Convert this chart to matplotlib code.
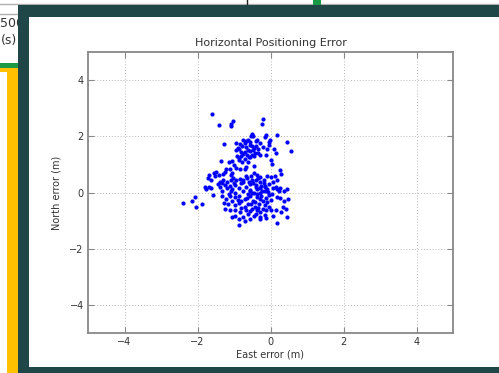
import matplotlib
matplotlib.use("Agg")
import matplotlib.pyplot as plt
from matplotlib.patches import Rectangle

# east / north error (m)
east = [
    -1.60, -1.42, -1.03, -1.08, -1.07, -0.21, -0.22,
    -0.50, -0.53, -0.47, -0.12, -0.14, 0.17, -0.61, -0.66, -0.69, -0.76, -0.37, -0.30,
    -0.41, -0.05, -0.01, 0.45, -0.83,
    -1.27, -0.77, -0.57, -0.51, -0.40, -0.66, -0.89, -0.85, -0.61, -0.57, -0.48, -0.43,
    -0.34, -0.80, -0.74, -0.94, 0.09, -0.10, 0.16, 0.55, -0.04,
    -0.91, -0.87, -0.85, -0.77, -0.65, -0.60, -0.70, -0.55, -0.46, -0.30, -0.12, -1.35,
    -1.14, -1.05, -1.00, -0.44, 0.00, 0.04, -0.95,
    -1.69, -1.70, -1.55, -1.51, -1.48, -1.41, -1.30, -1.26, -1.22, -1.12, -1.05, -0.83,
    -0.71, -0.67, -1.07, -1.03, -1.09, -0.83, -0.75, -0.65, -0.54, -0.52, -0.41, -0.35,
    -0.28, -0.19, -0.37, -0.10, 0.02, 0.12, 0.17, 0.26, 0.30, -1.63, -1.38, -1.30,
    -1.18, -0.94,
    -1.79, -1.78, -1.68, -1.63, -1.58, -1.44, -1.34, -1.38, -1.26, -1.32, -1.19, -1.10,
    -1.05, -1.07, -0.98, -0.87, -0.96, -0.80, -0.74, -0.59, -0.56, -0.48, -0.41, -0.37,
    -0.30, -0.25, -0.19, -0.14, -0.10, -0.16, -0.05, 0.06, 0.14, 0.17, 0.27, 0.23,
    0.38, 0.46, -0.66, -0.57, -0.50, -0.37, -0.30,
    -2.40, -2.14, -2.08, -2.05, -1.89, -1.32, -1.21, -1.12, -1.06, -0.98, -0.87, -0.80,
    -0.71, -0.57, -0.48, -0.37, -0.30, -0.21, -0.12, -0.03, 0.02, 0.17, 0.26, 0.38,
    0.47, -1.28, -1.16, -0.96, -0.85, -0.71, -0.61, -0.53, -0.43, -0.32, -0.16, 0.34,
    -1.26, -1.10, -0.96, -0.83, -0.68, -0.57, -0.37, -0.30, -0.12, 0.02, 0.15, 0.43,
    -1.05, -0.87, -0.74, -0.57, -0.30, -0.12, 0.06, 0.45, -0.87, 0.18, -0.98, -0.39,
    -0.16,
    -0.62, -0.45, -0.22, -0.08, -0.55, -0.40, -0.28, -0.65, -0.42, -0.25, -0.10, -0.35,
    -0.50, -0.20, -0.62, -0.45, -0.05, 0.05, -0.75, -0.90, -1.00, -0.68, -0.45, -0.15,
    0.08, -1.15, -0.80, -0.30, -0.70, 0.30,
    -0.55, -0.70, -0.45, -0.35, -0.62, -0.80, -0.20, -0.50, -0.95,
]
north = [
    2.79, 2.39, 2.55, 2.42, 2.36, 2.60, 2.43,
    2.08, 2.01, 2.00, 2.05, 1.98, 2.06, 1.88, 1.83, 1.76, 1.88, 1.88, 1.76,
    1.82, 1.81, 1.86, 1.80, 1.73,
    1.71, 1.67, 1.70, 1.65, 1.64, 1.62, 1.60, 1.55, 1.52, 1.48, 1.50, 1.42,
    1.40, 1.44, 1.38, 1.50, 1.54, 1.55, 1.40, 1.48, 1.70,
    1.29, 1.24, 1.14, 1.08, 1.32, 1.26, 1.20, 1.26, 1.29, 1.32, 1.35, 1.12,
    1.07, 1.12, 0.99, 0.93, 1.17, 1.00, 0.87,
    0.62, 0.52, 0.69, 0.57, 0.73, 0.61, 0.67, 0.74, 0.85, 0.85, 0.71, 0.85,
    0.82, 0.90, 0.61, 0.52, 0.43, 0.48, 0.45, 0.52, 0.57, 0.45, 0.45, 0.50,
    0.55, 0.45, 0.64, 0.60, 0.55, 0.58, 0.46, 0.81, 0.67, 0.45, 0.39, 0.45,
    0.38, 0.43,
    0.21, 0.12, 0.21, 0.17, -0.08, 0.31, 0.33, 0.19, 0.25, 0.07, 0.17, 0.24,
    0.14, 0.05, 0.26, 0.17, -0.02, 0.33, 0.38, 0.38, 0.29, 0.33, 0.21, 0.12,
    0.17, 0.24, 0.33, 0.24, 0.12, 0.05, 0.31, 0.37, 0.21, 0.12, 0.17, 0.05,
    0.07, 0.12, 0.21, 0.05, 0.00, -0.05, 0.00,
    -0.37, -0.31, -0.17, -0.50, -0.40, -0.12, -0.24, -0.11, -0.29, -0.17, -0.11, -0.29,
    -0.23, -0.13, -0.29, -0.17, -0.24, -0.29, -0.19, -0.10, -0.26, -0.17, -0.19, -0.29,
    -0.24, -0.36, -0.40, -0.45, -0.38, -0.50, -0.40, -0.40, -0.50, -0.40, -0.46, -0.50,
    -0.60, -0.64, -0.64, -0.69, -0.62, -0.67, -0.64, -0.71, -0.64, -0.62, -0.64, -0.58,
    -0.86, -0.94, -0.88, -0.94, -0.88, -0.90, -0.82, -0.86, -1.17, -1.07, -0.82, -0.76,
    -0.79,
    -0.05, -0.02, 0.05, 0.02, 0.10, 0.28, 0.36, -0.20, -0.33, -0.12, -0.35, -0.55,
    -0.60, -0.60, -0.78, -0.85, -0.50, -0.05, 0.05, -0.28, 0.35, 0.60, 0.70, 0.20,
    0.15, -0.05, -0.55, -0.95, -1.02, -0.70,
    1.80, 1.45, 1.60, 1.55, 1.10, 1.30, 1.62, 1.35, 1.75,
]

ticks = [-4, -2, 0, 2, 4]

W, H = 499, 373
fig = plt.figure(figsize=(W / 100, H / 100), dpi=100)
fig.patch.set_facecolor("white")


def box(x0, y0, x1, y1, color, z):
    # rectangle given in screenshot pixels (top-left origin)
    fig.patches.append(Rectangle((x0 / W, 1 - y1 / H), (x1 - x0) / W, (y1 - y0) / H,
                                 transform=fig.transFigure, facecolor=color,
                                 edgecolor="none", zorder=z))


# bits of the page behind the popup
fig.add_artist(plt.Line2D([0, 1], [1 - 4 / H] * 2, transform=fig.transFigure,
                          color="#b0b0b0", lw=1, zorder=-9))
fig.add_artist(plt.Line2D([0, 18 / W], [1 - 14 / H] * 2, transform=fig.transFigure,
                          color="#b0b0b0", lw=1, zorder=-9))
fig.add_artist(plt.Line2D([247 / W] * 2, [1, 1 - 5 / H], transform=fig.transFigure,
                          color="#222222", lw=1, zorder=-9))
fig.text(0, 1 - 27 / H, "500", fontsize=9, color="#333333", zorder=-8)
fig.text(1 / W, 1 - 44 / H, "(s)", fontsize=9, color="#333333", zorder=-8)
box(0, 63, 19, 68, "#1a9a44", -7)
box(0, 68, 19, 72, "#ffc000", -7)
box(7, 68, 19, 373, "#ffc000", -7)
box(313, 0, 321, 6, "#1a9a44", -7)

# popup frame
box(18, 5, 499, 373, "#1f4748", -5)
box(29, 17, 499, 367, "white", -4)

ax = fig.add_axes([88 / W, 1 - 333 / H, 365 / W, 281 / H])
ax.plot(east, north, ".", color="blue", markersize=4)
ax.set_xlim(-5, 5)
ax.set_ylim(-5, 5)
ax.set_xticks(ticks)
ax.set_yticks(ticks)
ax.grid(True, linestyle=(0, (1, 2)), color="#b8b8b8", linewidth=0.7)
for s in ax.spines.values():
    s.set_color("#888888")
    s.set_linewidth(1.3)
ax.tick_params(direction="in", top=True, right=True, length=4, color="#888888",
               labelsize=7, labelcolor="#333333", pad=3)
ax.set_title("Horizontal Positioning Error", fontsize=8, color="#333333", pad=4)
ax.set_xlabel("East error (m)", fontsize=7, color="#333333", labelpad=2)
ax.set_ylabel("North error (m)", fontsize=7, color="#333333", labelpad=6)

fig.savefig("out.png", dpi=100)
